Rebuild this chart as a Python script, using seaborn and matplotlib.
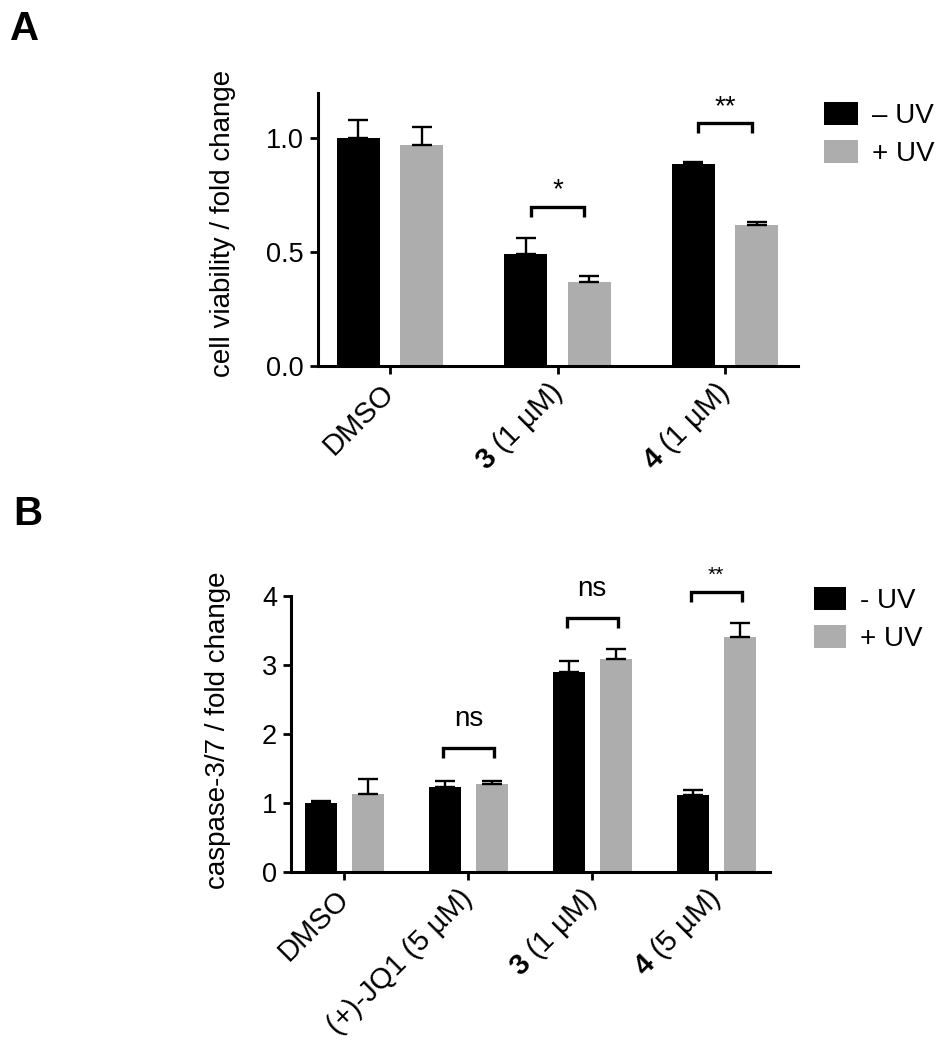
import numpy as np
import pandas as pd
import matplotlib
matplotlib.use("Agg")
import matplotlib.pyplot as plt
import seaborn as sns

sns.set_style("ticks")
plt.rcParams["font.family"] = ["Liberation Sans", "DejaVu Sans"]
plt.rcParams["mathtext.fontset"] = "custom"
plt.rcParams["mathtext.rm"] = "Liberation Sans"
plt.rcParams["mathtext.bf"] = "Liberation Sans:bold"
for k in ["text.color", "axes.labelcolor", "xtick.color", "ytick.color",
          "axes.edgecolor"]:
    plt.rcParams[k] = "black"

BLACK = "#000000"
GREY = "#adadad"

# --- panel A: cell viability ---
a_treat = ["DMSO", r"$\mathbf{3}$ (1 µM)", r"$\mathbf{4}$ (1 µM)"]
a_uv = ["– UV", "+ UV"]
a_minus = [1.00, 0.49, 0.889]
a_plus = [0.971, 0.367, 0.621]
a_minus_err = [0.08, 0.07, 0.005]
a_plus_err = [0.08, 0.03, 0.012]
a_sig = [(1, "*", 0.70), (2, "**", 1.067)]

# --- panel B: caspase-3/7 ---
b_treat = ["DMSO", "(+)-JQ1 (5 µM)", r"$\mathbf{3}$ (1 µM)", r"$\mathbf{4}$ (5 µM)"]
b_uv = ["- UV", "+ UV"]
b_minus = [1.00, 1.234, 2.90, 1.114]
b_plus = [1.133, 1.282, 3.087, 3.41]
b_minus_err = [0.03, 0.09, 0.165, 0.07]
b_plus_err = [0.22, 0.045, 0.14, 0.20]
b_sig = [(1, "ns", 1.797), (2, "ns", 3.68), (3, "**", 4.06)]


def make_df(treat, uv, minus, plus):
    return pd.DataFrame({
        "treatment": treat * 2,
        "uv": [uv[0]] * len(treat) + [uv[1]] * len(treat),
        "value": list(minus) + list(plus),
    })


def draw_panel(ax, treat, uv, minus, plus, errs, sigs, ylim, yticks, ylabels,
               ylabel, half_w, droop, sig_fs, sig_off):
    df = make_df(treat, uv, minus, plus)
    sns.barplot(data=df, x="treatment", y="value", hue="uv", order=treat,
                hue_order=uv, palette=[BLACK, GREY], saturation=1,
                width=0.76, gap=0.32, errorbar=None, linewidth=0, ax=ax)
    # one-sided error bars on top of the bars
    for cont, err in zip(ax.containers, errs):
        xs = [p.get_x() + p.get_width() / 2 for p in cont]
        hs = [p.get_height() for p in cont]
        ax.errorbar(xs, hs, yerr=[np.zeros(len(err)), err], fmt="none",
                    ecolor="black", elinewidth=1.7, capsize=7, capthick=1.7,
                    zorder=3)
    # significance brackets
    for i, lab, y in sigs:
        ax.plot([i - half_w, i - half_w, i + half_w, i + half_w],
                [y - droop, y, y, y - droop], color="black", lw=2.4,
                solid_joinstyle="miter", solid_capstyle="butt", clip_on=False)
        ax.annotate(lab, (i, y), xytext=(0, sig_off[lab]),
                    textcoords="offset points", ha="center", va="baseline",
                    fontsize=sig_fs[lab], annotation_clip=False)
    ax.set_xlim(-0.433, len(treat) - 1 + 0.433)
    ax.set_ylim(*ylim)
    ax.set_yticks(yticks)
    ax.set_yticklabels(ylabels)
    ax.set_xticks(range(len(treat)))
    ax.set_xticklabels(treat, rotation=45, ha="right", va="center",
                       rotation_mode="anchor")
    ax.set_xlabel("")
    ax.set_ylabel(ylabel, fontsize=20)
    sns.despine(ax=ax)
    for s in ["left", "bottom"]:
        ax.spines[s].set_linewidth(2.2)
    ax.tick_params(axis="both", width=2.0, length=6, direction="out")
    ax.tick_params(axis="y", labelsize=19.5, pad=4)
    ax.tick_params(axis="x", labelsize=21, pad=10)
    leg = ax.get_legend()
    handles = leg.legend_handles
    labels = [t.get_text() for t in leg.get_texts()]
    leg.remove()
    return handles, labels


fig = plt.figure(figsize=(9.51, 10.5), dpi=100)
W, H = 951, 1050

ax_a = fig.add_axes([317.5 / W, 1 - 366 / H, 480 / W, 273.3 / H])
ha, la = draw_panel(ax_a, a_treat, a_uv, a_minus, a_plus,
                    [a_minus_err, a_plus_err], a_sig, (0, 1.2),
                    [0, 0.5, 1.0], ["0.0", "0.5", "1.0"],
                    "cell viability / fold change", 0.16, 0.044,
                    {"*": 20, "**": 20}, {"*": 6.5, "**": 6.5})
ax_a.yaxis.set_label_coords(-0.17, 0.52)
ax_a.legend(ha, la, loc="upper left", bbox_to_anchor=(824 / W, 1 - 102 / H),
            bbox_transform=fig.transFigure, frameon=False, borderpad=0,
            borderaxespad=0, handlelength=1.22, handleheight=0.9,
            handletextpad=0.5, labelspacing=0.4, fontsize=20)

ax_b = fig.add_axes([290.8 / W, 1 - 872.3 / H, 479 / W, 276.4 / H])
hb, lb = draw_panel(ax_b, b_treat, b_uv, b_minus, b_plus,
                    [b_minus_err, b_plus_err], b_sig, (0, 4),
                    [0, 1, 2, 3, 4], ["0", "1", "2", "3", "4"],
                    "caspase-3/7 / fold change", 0.205, 0.145,
                    {"ns": 20, "**": 15}, {"ns": 16, "**": 8})
ax_b.yaxis.set_label_coords(-0.125, 0.515)
ax_b.legend(hb, lb, loc="upper left", bbox_to_anchor=(814 / W, 1 - 587 / H),
            bbox_transform=fig.transFigure, frameon=False, borderpad=0,
            borderaxespad=0, handlelength=1.15, handleheight=0.9,
            handletextpad=0.5, labelspacing=0.4, fontsize=20)

fig.text(10 / W, 1 - 10 / H, "A", fontsize=29, fontweight="bold",
         ha="left", va="top")
fig.text(13 / W, 1 - 495 / H, "B", fontsize=29, fontweight="bold",
         ha="left", va="top")

fig.savefig("out.png", dpi=100)
